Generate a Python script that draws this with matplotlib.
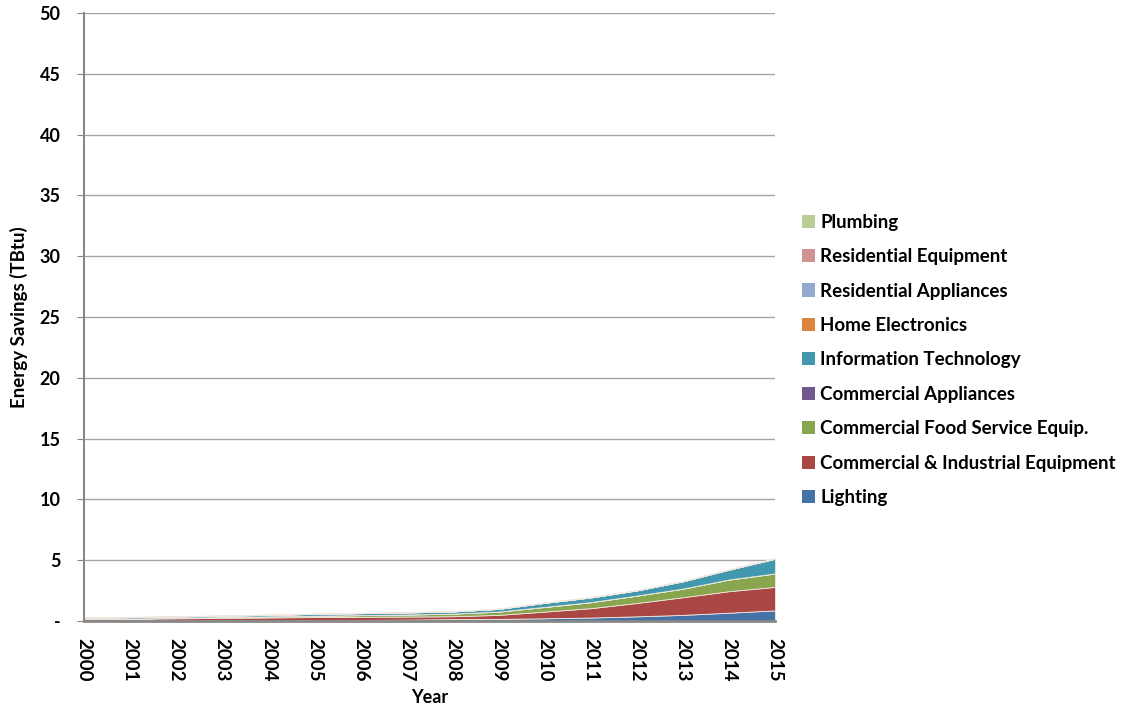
import matplotlib.pyplot as plt
from matplotlib.patches import Patch

years = list(range(2000, 2016))

# savings by product group (TBtu), stacked bottom to top
lighting = [0.02, 0.03, 0.04, 0.05, 0.05, 0.06, 0.08, 0.11, 0.15, 0.17, 0.22, 0.28, 0.38, 0.50, 0.68, 0.87]
ci_equip = [0.13, 0.15, 0.18, 0.20, 0.24, 0.26, 0.26, 0.25, 0.24, 0.33, 0.55, 0.77, 1.10, 1.45, 1.77, 1.93]
food_service = [0.01, 0.02, 0.04, 0.07, 0.09, 0.11, 0.14, 0.17, 0.21, 0.27, 0.38, 0.49, 0.60, 0.70, 0.95, 1.10]
comm_appliances = [0.00, 0.00, 0.00, 0.00, 0.00, 0.00, 0.00, 0.00, 0.00, 0.00, 0.01, 0.01, 0.01, 0.01, 0.01, 0.01]
info_tech = [0.10, 0.11, 0.11, 0.11, 0.12, 0.15, 0.16, 0.17, 0.18, 0.22, 0.33, 0.38, 0.42, 0.60, 0.80, 1.20]
home_electronics = [0.00, 0.00, 0.00, 0.00, 0.00, 0.00, 0.00, 0.00, 0.00, 0.00, 0.00, 0.00, 0.00, 0.00, 0.01, 0.01]
res_appliances = [0.01, 0.01, 0.01, 0.01, 0.01, 0.01, 0.01, 0.01, 0.01, 0.01, 0.01, 0.01, 0.01, 0.01, 0.01, 0.01]
res_equipment = [0.00, 0.00, 0.00, 0.00, 0.00, 0.00, 0.00, 0.00, 0.00, 0.00, 0.00, 0.01, 0.01, 0.01, 0.01, 0.01]
plumbing = [0.01, 0.01, 0.01, 0.01, 0.01, 0.01, 0.01, 0.01, 0.01, 0.01, 0.01, 0.01, 0.01, 0.01, 0.01, 0.01]

labels = ['Lighting', 'Commercial & Industrial Equipment', 'Commercial Food Service Equip.',
          'Commercial Appliances', 'Information Technology', 'Home Electronics',
          'Residential Appliances', 'Residential Equipment', 'Plumbing']
colors = ['#4572A7', '#AA4643', '#89A54E', '#71588F', '#4198AF',
          '#DB843D', '#93A9CF', '#D19392', '#B9CD96']
series = [lighting, ci_equip, food_service, comm_appliances, info_tech,
          home_electronics, res_appliances, res_equipment, plumbing]

plt.rcParams['font.family'] = ['Lato', 'DejaVu Sans']
plt.rcParams['font.weight'] = 'bold'

fig = plt.figure(figsize=(11.22, 7.10), dpi=100)
ax = fig.add_axes([0.0749, 0.1254, 0.6158, 0.8563])

ax.stackplot(years, *series, colors=colors, labels=labels,
             edgecolor='#f0e8e0', linewidth=0.6)

ax.set_xlim(2000, 2015)
ax.set_ylim(0, 50)
ax.set_yticks(range(0, 51, 5))
ax.set_yticklabels(['-'] + [str(v) for v in range(5, 51, 5)], fontsize=13, fontweight='bold')
ax.set_xticks(years)
ax.set_xticklabels([str(y) for y in years], rotation=270, fontsize=13.5, fontweight='bold')
ax.tick_params(axis='y', length=5, color='#888888', pad=12)
ax.tick_params(axis='x', length=0, pad=12)

ax.grid(axis='y', color='#a6a6a6', linewidth=1)
ax.set_axisbelow(True)
for side in ['top', 'right']:
    ax.spines[side].set_visible(False)
ax.spines['left'].set_color('#888888')
ax.spines['left'].set_linewidth(1.5)
ax.spines['bottom'].set_color('#888888')
ax.spines['bottom'].set_linewidth(2)

ax.set_xlabel('Year', fontsize=13, fontweight='bold', labelpad=6)
ax.set_ylabel('Energy Savings (TBtu)', fontsize=13.5, fontweight='bold', labelpad=8)

handles = [Patch(facecolor=c, edgecolor='none') for c in colors]
fig.legend(handles[::-1], labels[::-1], loc='center left',
           bbox_to_anchor=(0.700, 0.493), frameon=False,
           prop={'size': 13.5, 'weight': 'bold'},
           handlelength=0.7, handleheight=0.7, handletextpad=0.25,
           labelspacing=0.93)

fig.savefig('out.png', dpi=100)
